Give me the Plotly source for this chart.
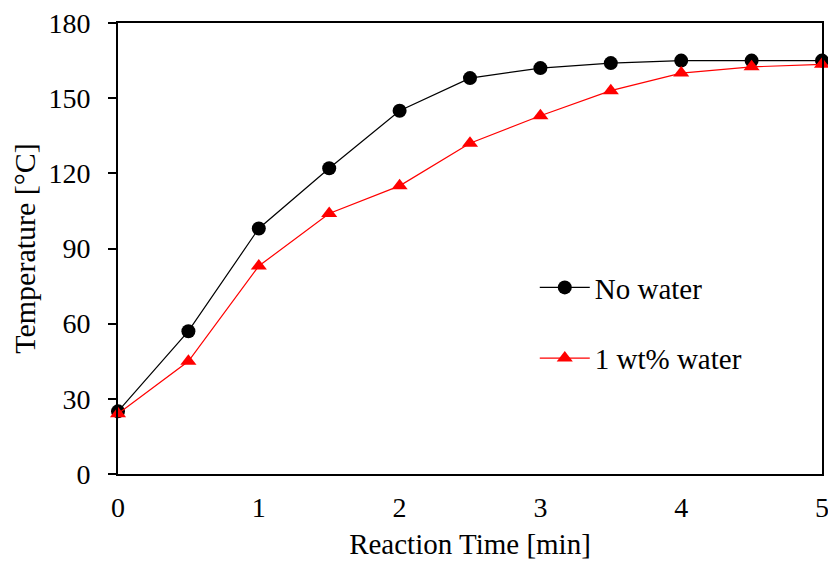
import plotly.graph_objects as go

time_min = [0, 0.5, 1, 1.5, 2, 2.5, 3, 3.5, 4, 4.5, 5]
no_water = [25, 57, 98, 122, 145, 158, 162, 164, 165, 165, 165]
one_wt_water = [24, 45, 83, 104, 115, 132, 143, 153, 160, 162.5, 163.5]

x_ticks = [0, 1, 2, 3, 4, 5]
y_ticks = [0, 30, 60, 90, 120, 150, 180]

FONT = "Times New Roman, Liberation Serif, DejaVu Serif, serif"

fig = go.Figure()
fig.add_trace(go.Scatter(
    x=time_min, y=no_water, mode="lines+markers", name="No water",
    legendgroup="a",
    line=dict(color="black", width=1.2),
    marker=dict(symbol="circle", size=14, color="black"),
    cliponaxis=False,
))
fig.add_trace(go.Scatter(
    x=time_min, y=one_wt_water, mode="lines+markers", name="1 wt% water",
    legendgroup="b",
    line=dict(color="red", width=1.2),
    marker=dict(symbol="triangle-up", size=14, color="red"),
    cliponaxis=False,
))

# page body has an 8px margin, so the figure is sized to fit the 836x567 window
fig.update_layout(
    width=828, height=559,
    margin=dict(l=110, r=14, t=15, b=93),
    paper_bgcolor="white", plot_bgcolor="white",
    font=dict(family=FONT, size=28, color="black"),
    showlegend=True,
    legend=dict(
        x=0.592, y=0.47, xanchor="left", yanchor="top",
        bgcolor="rgba(0,0,0,0)",
        font=dict(family=FONT, size=29, color="black"),
        tracegroupgap=30, traceorder="grouped",
        itemwidth=50,
    ),
    xaxis=dict(
        range=[0, 5], tickvals=x_ticks, ticktext=[str(v) for v in x_ticks],
        showgrid=False, zeroline=False, automargin=False,
        showline=True, linecolor="black", linewidth=2, mirror=True,
        ticks="outside", ticklen=7, tickcolor="rgba(0,0,0,0)",
        ticklabeloverflow="allow",
        title=dict(text="Reaction Time [min]", font=dict(family=FONT, size=29), standoff=12),
        tickfont=dict(family=FONT, size=28),
    ),
    yaxis=dict(
        range=[0, 180], tickvals=y_ticks, ticktext=[str(v) for v in y_ticks],
        showgrid=False, zeroline=False, automargin=False,
        showline=True, linecolor="black", linewidth=2, mirror=True,
        ticks="outside", ticklen=8, tickwidth=2, tickcolor="black",
        ticklabelstandoff=12, ticklabeloverflow="allow",
        title=dict(text="Temperature [°C]", font=dict(family=FONT, size=30), standoff=8),
        tickfont=dict(family=FONT, size=28),
    ),
)

fig.write_html("out.html")
